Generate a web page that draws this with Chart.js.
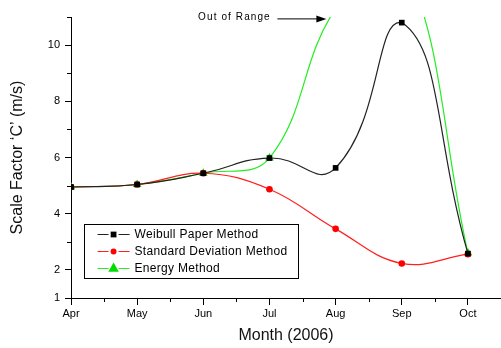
<!DOCTYPE html>
<html>
<head>
<meta charset="utf-8">
<script src="https://cdn.jsdelivr.net/npm/chart.js@4.4.1/dist/chart.umd.min.js"></script>
<style>
  html, body { margin: 0; padding: 0; background: #fff; }
  #wrap { width: 501px; height: 348px; position: relative; }
</style>
</head>
<body>
<div id="wrap"><canvas id="c"></canvas></div>
<script>
// Monthly scale factor estimates for 2006
const months = ['Apr', 'May', 'Jun', 'Jul', 'Aug', 'Sep', 'Oct'];
const weibullPaper = [4.95, 5.04, 5.44, 5.98, 5.63, 10.8, 2.58];
const standardDeviation = [4.95, 5.04, 5.44, 4.87, 3.46, 2.23, 2.56];
const energyMethod = [4.95, 5.04, 5.44, 5.98, 11.3, 13.0, 2.6];

const yMajorTicks = [1, 2, 4, 6, 8, 10];
const yMinorTicks = [3, 5, 7, 9, 11];
const xMinorTicks = [0.5, 1.5, 2.5, 3.5, 4.5, 5.5];

const seriesNames = ['Weibull Paper Method', 'Standard Deviation Method', 'Energy Method'];
const axisTitles = { x: 'Month (2006)', y: 'Scale Factor \u2018C\u2019 (m/s)' };
const noteText = 'Out of Range';

const toPoints = vals => vals.map((v, i) => ({ x: i, y: v }));

const FONT = "'Liberation Sans', Arial, sans-serif";

// short minor tick marks, the "Out of Range" note and the boxed legend
const extras = {
  id: 'extras',
  afterDraw(chart) {
    const { ctx, scales: { x, y } } = chart;
    ctx.save();
    ctx.strokeStyle = '#000';
    ctx.lineWidth = 1;
    ctx.beginPath();
    yMinorTicks.forEach(v => {
      const py = Math.round(y.getPixelForValue(v)) + 0.5;
      ctx.moveTo(x.left - 4, py); ctx.lineTo(x.left, py);
    });
    xMinorTicks.forEach(v => {
      const px = Math.round(x.getPixelForValue(v)) + 0.5;
      ctx.moveTo(px, y.bottom); ctx.lineTo(px, y.bottom + 4);
    });
    ctx.stroke();

    // note with arrow pointing at the clipped Energy Method curve
    const ty = y.getPixelForValue(10.95);
    const textRight = x.getPixelForValue(3.02);
    ctx.fillStyle = '#000';
    ctx.font = '10px ' + FONT;
    ctx.letterSpacing = '1.1px';
    ctx.textAlign = 'right';
    ctx.textBaseline = 'middle';
    ctx.fillText(noteText, textRight, ty - 1.5);
    ctx.letterSpacing = '0px';
    const ax0 = x.getPixelForValue(3.12), ax1 = x.getPixelForValue(3.86);
    ctx.beginPath();
    ctx.moveTo(ax0, ty + 0.5); ctx.lineTo(ax1 - 8, ty + 0.5);
    ctx.stroke();
    ctx.beginPath();
    ctx.moveTo(ax1, ty + 0.5);
    ctx.lineTo(ax1 - 10, ty - 3);
    ctx.lineTo(ax1 - 10, ty + 4);
    ctx.closePath();
    ctx.fill();

    // legend box
    const bx = x.getPixelForValue(0.19), bx2 = x.getPixelForValue(3.42);
    const by = y.getPixelForValue(3.63), by2 = y.getPixelForValue(1.72);
    ctx.strokeStyle = '#000';
    ctx.strokeRect(Math.round(bx) + 0.5, Math.round(by) + 0.5, Math.round(bx2 - bx), Math.round(by2 - by));
    const rowY = [y.getPixelForValue(3.28), y.getPixelForValue(2.66), y.getPixelForValue(2.05)];
    chart.data.datasets.forEach((ds, i) => {
      const ry = Math.round(rowY[i]) + 0.5;
      const lx0 = bx + 14, lx1 = bx + 46, mx = (lx0 + lx1) / 2;
      ctx.strokeStyle = ds.borderColor;
      ctx.lineWidth = 1;
      ctx.beginPath();
      ctx.moveTo(lx0, ry); ctx.lineTo(mx - 5, ry);
      ctx.moveTo(mx + 5, ry); ctx.lineTo(lx1, ry);
      ctx.stroke();
      ctx.fillStyle = ds.pointBackgroundColor;
      const s = ds.pointRadius;
      if (ds.pointStyle === 'rect') {
        ctx.fillRect(mx - s * 0.72, ry - s * 0.72, s * 1.44, s * 1.44);
      } else if (ds.pointStyle === 'triangle') {
        ctx.beginPath();
        ctx.moveTo(mx, ry - s * 1.2);
        ctx.lineTo(mx + s * 1.05, ry + s * 0.65);
        ctx.lineTo(mx - s * 1.05, ry + s * 0.65);
        ctx.closePath(); ctx.fill();
      } else {
        ctx.beginPath(); ctx.arc(mx, ry, s * 0.9, 0, Math.PI * 2); ctx.fill();
      }
      ctx.fillStyle = '#000';
      ctx.font = '12px ' + FONT;
      ctx.letterSpacing = '0.3px';
      ctx.textAlign = 'left';
      ctx.fillText(ds.label, lx1 + 5, ry);
      ctx.letterSpacing = '0px';
    });
    ctx.restore();
  }
};

new Chart(document.getElementById('c'), {
  type: 'line',
  data: {
    datasets: [
      {
        label: seriesNames[0], data: toPoints(weibullPaper),
        borderColor: '#222', backgroundColor: '#000', pointBackgroundColor: '#000',
        pointBorderWidth: 0, pointStyle: 'rect', pointRadius: 4, borderWidth: 1.2,
        tension: 0.5
      },
      {
        label: seriesNames[1], data: toPoints(standardDeviation),
        borderColor: '#ff2020', backgroundColor: '#ff0000', pointBackgroundColor: '#ff0000',
        pointBorderWidth: 0, pointStyle: 'circle', pointRadius: 3.3, borderWidth: 1.2
      },
      {
        label: seriesNames[2], data: toPoints(energyMethod),
        borderColor: '#22ee22', backgroundColor: '#00dd00', pointBackgroundColor: '#00dd00',
        pointBorderWidth: 0, pointStyle: 'triangle', pointRadius: 5, borderWidth: 1.2
      }
    ]
  },
  options: {
    responsive: true,
    maintainAspectRatio: false,
    animation: false,
    events: [],
    layout: { autoPadding: false, padding: { top: 17, right: 0, bottom: 0, left: 0 } },
    elements: { line: { tension: 0.4 } },
    plugins: { legend: { display: false }, tooltip: { enabled: false } },
    scales: {
      x: {
        type: 'linear', min: 0, max: 6.5,
        afterBuildTicks: s => { s.ticks = months.map((m, i) => ({ value: i })); },
        afterFit: s => { s.height = 50; },
        ticks: {
          callback: v => months[v] ?? '',
          color: '#000', font: { family: FONT, size: 11 }, padding: 2, maxRotation: 0
        },
        grid: { drawOnChartArea: false, drawTicks: true, tickLength: 7, tickColor: '#000' },
        border: { display: true, color: '#000', width: 1 },
        title: {
          display: true, text: axisTitles.x, color: '#111',
          font: { family: FONT, size: 16 }, padding: { top: 0, bottom: 3 }
        }
      },
      y: {
        type: 'linear', min: 1, max: 11,
        afterBuildTicks: s => { s.ticks = yMajorTicks.map(v => ({ value: v })); },
        afterFit: s => { s.width = 71; },
        ticks: { color: '#000', font: { family: FONT, size: 11 }, padding: 5 },
        grid: { drawOnChartArea: false, drawTicks: true, tickLength: 6, tickColor: '#000' },
        border: { display: true, color: '#000', width: 1 },
        title: {
          display: true, text: axisTitles.y, color: '#111',
          font: { family: FONT, size: 16 }, padding: { top: 8, bottom: 0 }
        }
      }
    }
  },
  plugins: [extras]
});
</script>
</body>
</html>
